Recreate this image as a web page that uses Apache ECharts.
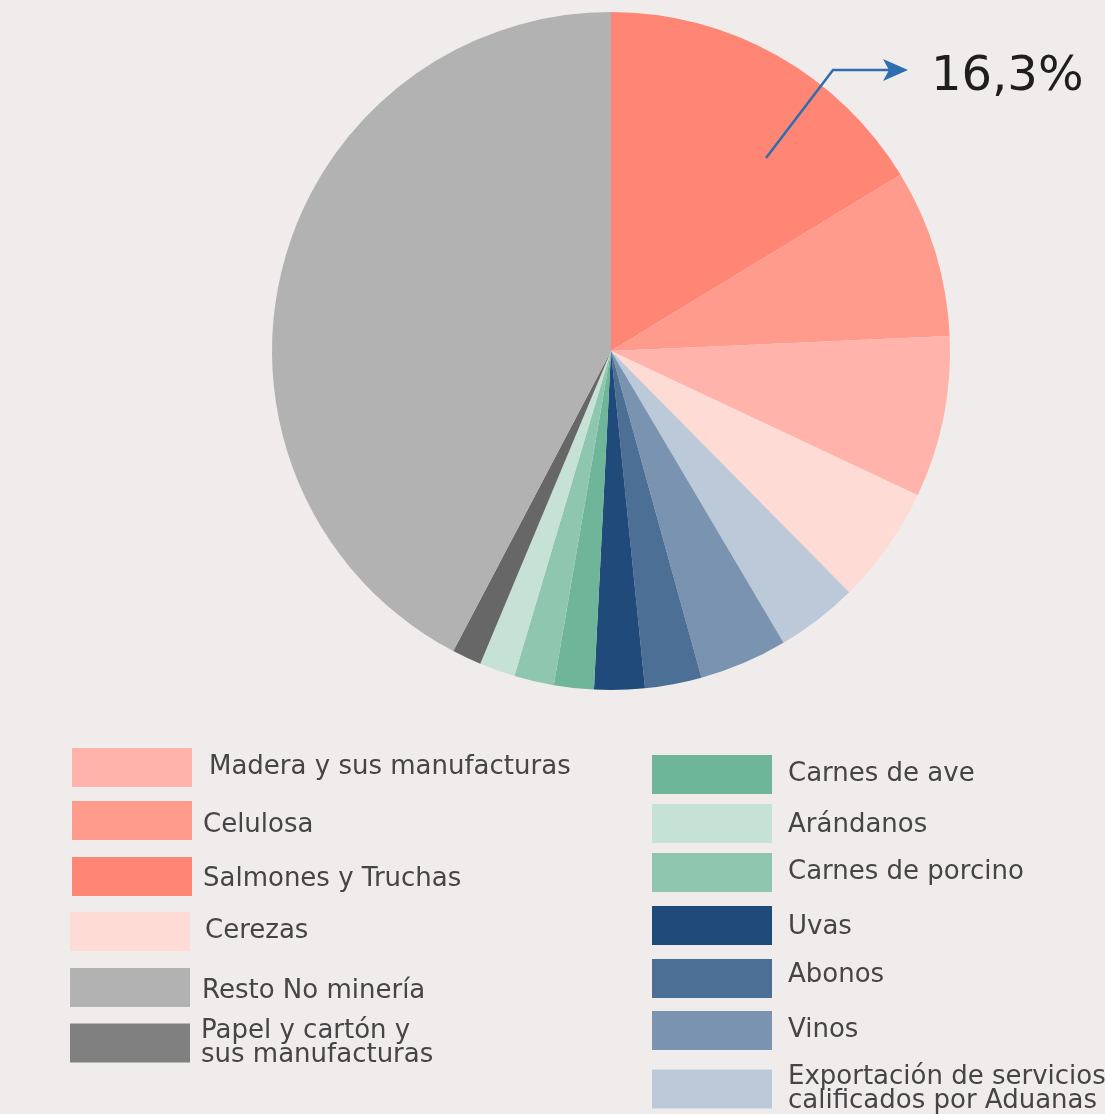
<!DOCTYPE html>
<html>
<head>
<meta charset="utf-8">
<script src="https://cdn.jsdelivr.net/npm/echarts@6/dist/echarts.min.js"></script>
<style>
  html, body { margin: 0; padding: 0; background: #f0ecec; }
  #chart { width: 1105px; height: 1114px; }
</style>
</head>
<body>
<div id="chart"></div>
<script>
'use strict';
// Exportaciones no mineras: participación por producto (%)
const names = [
  'Salmones y Truchas', 'Celulosa', 'Madera y sus manufacturas', 'Cerezas',
  'Exportación de servicios\ncalificados por Aduanas', 'Vinos', 'Abonos', 'Uvas',
  'Carnes de ave', 'Carnes de porcino', 'Arándanos',
  'Papel y cartón y\nsus manufacturas', 'Resto No minería'
];
const values = [16.3, 8.0, 7.7, 5.6, 3.9, 4.2, 2.7, 2.4, 1.9, 1.9, 1.7, 1.4, 42.3];
const colors = [
  '#ff8674', '#ff9b8c', '#ffb3aa', '#ffdbd6',
  '#bcc9d9', '#7a93b0', '#4c6f95', '#1f4a7a',
  '#6eb59a', '#8fc6af', '#c6e1d6',
  '#676767', '#b2b2b2'
];
const highlightIdx = 0; // porción destacada con la flecha

// posición de cada leyenda: [left, top, desplazamiento texto x, desplazamiento texto y]
const legendLayout = {
  'Madera y sus manufacturas': [72, 748, 17, 0],
  'Celulosa': [72, 801, 11, 5],
  'Salmones y Truchas': [72, 857, 11, 3],
  'Cerezas': [70, 912, 15, 0],
  'Resto No minería': [70, 968, 12, 4],
  'Papel y cartón y\nsus manufacturas': [70, 1018, 11, 0],
  'Carnes de ave': [652, 755, 16, 0],
  'Arándanos': [652, 804, 16, 2],
  'Carnes de porcino': [652, 853, 16, 0],
  'Uvas': [652, 906, 16, 2],
  'Abonos': [652, 959, 16, -3],
  'Vinos': [652, 1011, 16, 0],
  'Exportación de servicios\ncalificados por Aduanas': [652, 1064, 16, 0]
};
const legendIconOverride = { 'Papel y cartón y\nsus manufacturas': '#808080' };

const FONT = 'DejaVu Sans';
const TEXT = { fontFamily: FONT, fontSize: 26, color: '#454545' };

const chart = echarts.init(document.getElementById('chart'));

const legends = Object.keys(legendLayout).map((n) => {
  const [left, top, dx, dy] = legendLayout[n];
  const item = { name: n };
  if (legendIconOverride[n]) item.itemStyle = { color: legendIconOverride[n] };
  const multi = n.indexOf('\n') >= 0;
  return {
    left, top, padding: 0, orient: 'vertical',
    icon: 'rect', itemWidth: 120, itemHeight: 39,
    selectedMode: false,
    data: [item],
    formatter: multi ? '{name}' : '{t|{name}}',
    textStyle: Object.assign({}, TEXT, {
      lineHeight: 24,
      padding: [0, 0, 0, dx - 5],
      rich: {
        t: Object.assign({}, TEXT, {
          lineHeight: 27,
          padding: dy >= 0 ? [dy * 2, 0, 0, 0] : [0, 0, -dy * 2, 0]
        })
      }
    })
  };
});

const cx = 611, cy = 351;
const pctText = String(values[highlightIdx]).replace('.', ',') + '%';

chart.setOption({
  backgroundColor: '#f0ecec',
  animation: false,
  legend: legends,
  series: [{
    type: 'pie',
    center: [cx, cy],
    radius: [0, 339],
    startAngle: 90,
    clockwise: true,
    label: { show: false },
    labelLine: { show: false },
    emphasis: { disabled: true },
    data: names.map((n, i) => ({ name: n, value: values[i], itemStyle: { color: colors[i] } }))
  }],
  graphic: [
    {
      type: 'polyline', z: 100,
      shape: { points: [[766, 158], [833, 70], [893, 70]] },
      style: { stroke: '#2f6eae', lineWidth: 2.5, fill: null }
    },
    {
      type: 'polygon', z: 100,
      shape: { points: [[883, 59], [908, 70], [883, 81], [889, 70]] },
      style: { fill: '#2f6eae' }
    },
    {
      type: 'text', z: 100,
      left: 931, top: 54,
      style: { text: pctText, fontFamily: FONT, fontSize: 48, fontWeight: 500, fill: '#1e1e1e' }
    }
  ]
});
</script>
</body>
</html>
